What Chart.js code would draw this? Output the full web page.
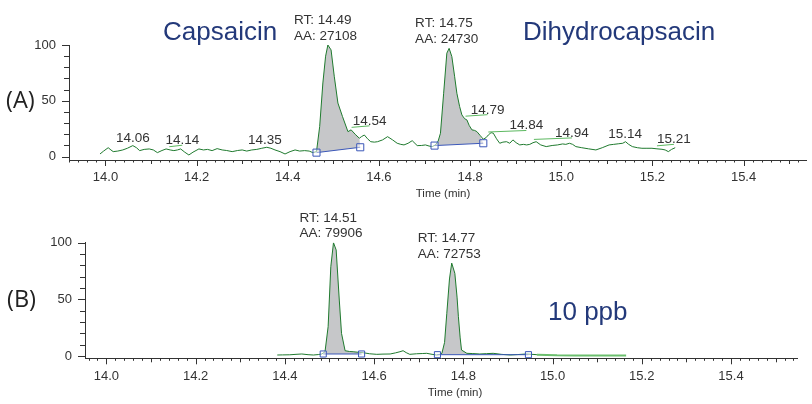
<!DOCTYPE html>
<html>
<head>
<meta charset="utf-8">
<script src="https://cdn.jsdelivr.net/npm/chart.js@4.4.1/dist/chart.umd.min.js"></script>
<style>
  html, body { margin: 0; padding: 0; background: #fff; }
  #wrap { position: relative; width: 812px; height: 404px; overflow: hidden; }
  canvas { position: absolute; left: 0; }
  #chartA { top: 0; }
  #chartB { top: 200px; }
</style>
</head>
<body>
<div id="wrap">
  <canvas id="chartA" width="812" height="200"></canvas>
  <canvas id="chartB" width="812" height="204"></canvas>
</div>
<script>
// ============================================
// DATA — chromatogram (A) sample, (B) 10 ppb standard
// ============================================

// trace (A): time (min) / relative abundance
const timeA = [
  13.988, 13.996, 14.006, 14.012, 14.017, 14.027, 14.038, 14.048, 14.060, 14.068,
  14.075, 14.085, 14.096, 14.105, 14.114, 14.124, 14.133, 14.142, 14.150, 14.158,
  14.165, 14.174, 14.183, 14.192, 14.205, 14.215, 14.224, 14.234, 14.245, 14.256,
  14.266, 14.278, 14.290, 14.300, 14.310, 14.321, 14.332, 14.343, 14.354, 14.363,
  14.372, 14.383, 14.394, 14.405, 14.416, 14.426, 14.437, 14.447, 14.455, 14.463,
  14.470, 14.477, 14.483, 14.488, 14.495, 14.502, 14.510, 14.520, 14.532, 14.539,
  14.548, 14.557, 14.562, 14.568, 14.575, 14.582, 14.590, 14.597, 14.608, 14.619,
  14.630, 14.640, 14.648, 14.655, 14.664, 14.673, 14.684, 14.693, 14.702, 14.710,
  14.717, 14.724, 14.730, 14.735, 14.742, 14.749, 14.754, 14.760, 14.766, 14.771,
  14.777, 14.782, 14.788, 14.793, 14.798, 14.804, 14.810, 14.815, 14.822, 14.829,
  14.835, 14.840, 14.846, 14.851, 14.858, 14.865, 14.872, 14.880, 14.887, 14.894,
  14.901, 14.909, 14.917, 14.924, 14.931, 14.938, 14.945, 14.955, 14.967, 14.980,
  14.992, 15.003, 15.010, 15.018, 15.025, 15.032, 15.045, 15.060, 15.076, 15.090,
  15.105, 15.115, 15.125, 15.135, 15.141, 15.148, 15.156, 15.167, 15.177, 15.188,
  15.199, 15.210, 15.221, 15.228, 15.235, 15.242, 15.250
];
const signalA = [
  2.4, 5, 8, 6, 4.5, 5, 6, 7.5, 9.9, 8,
  5.4, 6.5, 6.9, 6, 3.6, 5.5, 6.9, 6, 5.4, 6,
  6.9, 4, 1.5, 4, 6.9, 6, 6.5, 5.4, 7.2, 6,
  5.5, 4.5, 5.5, 6, 5, 6, 6.5, 7.5, 8.4, 7.5,
  6, 4.5, 2.4, 4.5, 6, 5, 5.4, 5, 3.6, 4.5,
  27, 66, 90, 100, 95.6, 72, 48, 36, 22.4, 24,
  20, 16.5, 18, 19.4, 16, 13.4, 13, 13.4, 15, 17.9,
  15, 12, 11, 10.5, 12, 14.3, 9.9, 10, 10.5, 9.5,
  9, 10.5, 14, 21, 56.8, 92.7, 97, 89.6, 72, 56.8,
  45, 37.4, 34, 32.9, 28, 24, 23.5, 22.4, 19, 15.6,
  17, 19.4, 21.5, 21, 16, 12, 13, 13.4, 12, 15,
  12.5, 10.5, 11, 10.5, 11, 12.5, 13.4, 10.5, 9, 10,
  10.5, 11.4, 11, 12, 11, 9, 8, 7, 6, 8,
  10.5, 11, 11.5, 12, 13.4, 11, 9, 8, 7.5, 7.5,
  7.5, 7, 6.6, 6, 4.5, 6.5, 8
];

// trace (B)
const timeB = [
  14.383, 14.395, 14.411, 14.425, 14.438, 14.452, 14.464, 14.475, 14.483, 14.490,
  14.497, 14.503, 14.509, 14.515, 14.522, 14.527, 14.535, 14.545, 14.553, 14.565,
  14.576, 14.590, 14.606, 14.620, 14.636, 14.648, 14.658, 14.665, 14.672, 14.680,
  14.695, 14.708, 14.718, 14.730, 14.740, 14.748, 14.752, 14.758, 14.763, 14.769,
  14.774, 14.781, 14.786, 14.789, 14.793, 14.796, 14.808, 14.820, 14.837, 14.852,
  14.867, 14.885, 14.905, 14.922, 14.942, 14.965, 14.987, 15.010, 15.050, 15.100,
  15.165
];
const signalB = [
  0.9, 1, 1.1, 1.5, 1.8, 1.2, 0.9, 1.3, 1.8, 3.8,
  25.9, 78.8, 100, 93.6, 49.4, 20, 4.7, 4, 3.8, 3.3,
  2.9, 2, 1.5, 1.7, 1.8, 2.8, 3.8, 4.7, 3, 1.5,
  2, 2.2, 2.4, 1.5, 0.9, 1.5, 2.4, 12, 37.7, 68,
  82, 73, 52, 34.7, 16, 5.3, 2.4, 2.2, 1.8, 2.1,
  2.4, 1.5, 0.9, 1.3, 1.8, 1.2, 0.9, 0.6, 0.5, 0.5,
  0.5
];

// integrated peaks
const peakRtA = [14.49, 14.75];
const peakAreaA = [27108, 24730];
const peakRtB = [14.51, 14.77];
const peakAreaB = [79906, 72753];

// integration baselines: [start, end]
const baseTimeA = [[14.463, 14.559], [14.722, 14.829]];
const baseLevelA = [[3.6, 8.4], [9.9, 12]];
const baseTimeB = [[14.486, 14.572], [14.742, 14.946]];
const baseLevelB = [[1.8, 1.8], [1.2, 1.2]];

// small labelled peaks in (A)
const minorRtA = [14.06, 14.14, 14.35, 14.54, 14.79, 14.84, 14.94, 15.14, 15.21];

const compoundNames = ["Capsaicin", "Dihydrocapsacin"];
const xTickLabels = [14.0, 14.2, 14.4, 14.6, 14.8, 15.0, 15.2, 15.4];
const yTickLabels = [0, 50, 100];

// ============================================
// HELPERS
// ============================================
const TRACE = "#1f7a2e";
const TAIL = "#6cbf6e";
const LEADER = "#5cb860";
const BASE = "#3b57b8";
const NAVY = "#23397a";
const TXT = "#333333";
const FONT = "'Liberation Sans', Arial, sans-serif";

function toPoints(times, vals) {
  return times.map((t, i) => ({ x: t, y: vals[i] }));
}

function interp(times, vals, t) {
  for (let i = 1; i < times.length; i++) {
    if (times[i] >= t) {
      const f = (t - times[i - 1]) / (times[i] - times[i - 1]);
      return vals[i - 1] + f * (vals[i] - vals[i - 1]);
    }
  }
  return vals[vals.length - 1];
}

// fill polygon top edge: trace between baseline start/end
function peakPoints(times, vals, bt, bv) {
  const pts = [{ x: bt[0], y: bv[0] }];
  times.forEach((t, i) => { if (t > bt[0] && t < bt[1]) pts.push({ x: t, y: vals[i] }); });
  pts.push({ x: bt[1], y: bv[1] });
  return pts;
}

function buildDatasets(times, vals, baseT, baseV, sq, tailFrom) {
  const ds = [{
    data: toPoints(times, vals),
    borderColor: TRACE, borderWidth: 1, pointRadius: 0, tension: 0, order: 1,
    segment: {
      // flat tail of the run drawn lighter / thicker as in the original
      borderColor: c => (tailFrom && c.p0.parsed.x >= tailFrom ? TAIL : undefined),
      borderWidth: c => (tailFrom && c.p0.parsed.x >= tailFrom ? 2 : undefined),
    },
  }];
  baseT.forEach((bt, k) => {
    ds.push({
      data: [{ x: bt[0], y: baseV[k][0] }, { x: bt[1], y: baseV[k][1] }],
      borderColor: BASE, borderWidth: 1, order: 0,
      pointStyle: "rect", pointRadius: sq, pointBorderWidth: 1,
      pointBorderColor: BASE, pointBackgroundColor: "rgba(255,255,255,0.5)",
    });
  });
  baseT.forEach((bt, k) => {
    ds.push({
      data: peakPoints(times, vals, bt, baseV[k]),
      borderColor: "rgba(0,0,0,0)", pointRadius: 0, tension: 0, order: 2,
      backgroundColor: "#c6c7c9", fill: 1 + k,
    });
  });
  return ds;
}

// ============================================
// PLUGIN: tick marks + annotations
// ============================================
const chromPlugin = {
  id: "chrom",
  afterDraw(chart, args, o) {
    const { ctx, chartArea } = chart;
    const x = chart.scales.x, y = chart.scales.y;
    ctx.save();
    ctx.strokeStyle = TXT;
    ctx.lineWidth = 1;

    // x ticks every 0.02, medium every 0.1, major every 0.2
    for (let i = Math.ceil(x.min / 0.02); i * 0.02 <= x.max + 1e-9; i++) {
      const px = Math.round(x.getPixelForValue(i * 0.02)) + 0.5;
      const len = i % 10 === 0 ? 6 : (i % 5 === 0 ? 4 : 2.5);
      ctx.beginPath();
      ctx.moveTo(px, chartArea.bottom);
      ctx.lineTo(px, chartArea.bottom + len);
      ctx.stroke();
    }
    // y ticks every 10
    for (let v = 0; v <= 100; v += 10) {
      const py = Math.round(y.getPixelForValue(v)) + 0.5;
      const len = v % 50 === 0 ? 7 : 5;
      ctx.beginPath();
      ctx.moveTo(chartArea.left - len, py);
      ctx.lineTo(chartArea.left, py);
      ctx.stroke();
    }

    // RT / AA annotations above the integrated peaks
    ctx.fillStyle = TXT;
    ctx.font = "13.5px " + FONT;
    ctx.textAlign = "left";
    ctx.textBaseline = "alphabetic";
    o.rt.forEach((rt, k) => {
      let best = -1;
      o.times.forEach((t, i) => {
        if (Math.abs(t - rt) <= 0.02 && (best < 0 || o.vals[i] > o.vals[best])) best = i;
      });
      const px = x.getPixelForValue(o.times[best]);
      const py = y.getPixelForValue(o.vals[best]);
      ctx.fillText("RT: " + rt.toFixed(2), px - 34, py - 21);
      ctx.fillText("AA: " + o.area[k], px - 34, py - 5.5);
    });

    // minor peak labels with leader lines
    (o.minor || []).forEach((rt, k) => {
      const px = x.getPixelForValue(rt);
      const py = y.getPixelForValue(interp(o.times, o.vals, rt));
      const dx = o.leaders[k];
      ctx.textAlign = "center";
      if (dx) {
        ctx.strokeStyle = LEADER;
        ctx.beginPath();
        ctx.moveTo(px, py - 3);
        ctx.lineTo(px + dx, py - 4.5);
        ctx.stroke();
        ctx.fillText(rt.toFixed(2), px + dx, py - 5.5);
      } else {
        ctx.fillText(rt.toFixed(2), px, py - 4);
      }
    });

    // big labels
    ctx.textAlign = "left";
    ctx.fillStyle = NAVY;
    ctx.font = "26px " + FONT;
    o.names.forEach(n => ctx.fillText(n.text, n.x, n.y));

    ctx.fillStyle = "#222";
    ctx.font = "23.5px 'Open Sans', sans-serif";
    ctx.textBaseline = "middle";
    ctx.fillText(o.panel.text, o.panel.x, o.panel.y);

    ctx.fillStyle = TXT;
    ctx.font = "11.5px " + FONT;
    ctx.textAlign = "center";
    ctx.fillText("Time (min)", o.titleX, o.titleY);
    ctx.restore();
  },
};

function makeChart(id, datasets, cfg, plug) {
  return new Chart(document.getElementById(id), {
    type: "line",
    data: { datasets },
    plugins: [chromPlugin],
    options: {
      responsive: false,
      animation: false,
      events: [],
      layout: { padding: { top: cfg.top, left: 0, right: cfg.right, bottom: 0 } },
      plugins: { legend: { display: false }, tooltip: { enabled: false }, chrom: plug },
      scales: {
        x: {
          type: "linear", min: cfg.xMin, max: cfg.xMax,
          afterFit: s => { s.height = cfg.xHeight; },
          afterBuildTicks: s => { s.ticks = xTickLabels.map(v => ({ value: v })); },
          grid: { drawOnChartArea: false, tickLength: 6, tickColor: "rgba(0,0,0,0)" },
          border: { color: TXT, width: 1 },
          ticks: { callback: v => v.toFixed(1), color: TXT, padding: 4, maxRotation: 0, font: { family: FONT, size: 13 } },
        },
        y: {
          min: cfg.yMin, max: 100,
          afterFit: s => { s.width = cfg.yWidth; },
          afterBuildTicks: s => { s.ticks = yTickLabels.map(v => ({ value: v })); },
          grid: { drawOnChartArea: false, tickLength: 7, tickColor: "rgba(0,0,0,0)" },
          border: { color: TXT, width: 1 },
          ticks: { color: TXT, padding: 6, font: { family: FONT, size: 13 } },
        },
      },
    },
  });
}

makeChart("chartA", buildDatasets(timeA, signalA, baseTimeA, baseLevelA, 5, null),
  { top: 45, right: 0, xHeight: 40, yWidth: 69, xMin: 13.92, xMax: 15.537, yMin: -3 },
  {
    times: timeA, vals: signalA, rt: peakRtA, area: peakAreaA,
    minor: minorRtA, leaders: [0, 13, 0, 18, 22, 38, 38, 0, 17],
    names: [{ text: compoundNames[0], x: 163, y: 40 }, { text: compoundNames[1], x: 523, y: 40 }],
    panel: { text: "(A)", x: 6, y: 101 },
    titleX: 443, titleY: 194,
  });

makeChart("chartB", buildDatasets(timeB, signalB, baseTimeB, baseLevelB, 4.3, 14.96),
  { top: 42.7, right: 15, xHeight: 45.7, yWidth: 85, xMin: 13.952, xMax: 15.548, yMin: -2 },
  {
    times: timeB, vals: signalB, rt: peakRtB, area: peakAreaB,
    minor: [], leaders: [],
    names: [{ text: "10 ppb", x: 548, y: 120 }],
    panel: { text: "(B)", x: 7, y: 100 },
    titleX: 455, titleY: 193,
  });
</script>
</body>
</html>
